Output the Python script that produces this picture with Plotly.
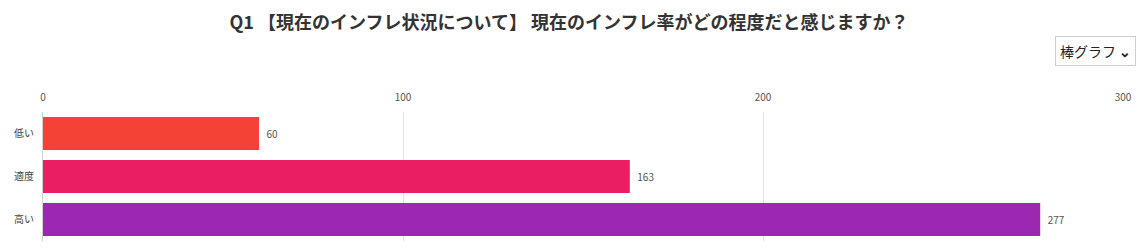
import plotly.graph_objects as go

categories = ["低い", "適度", "高い"]
values = [60, 163, 277]
colors = ["#F44336", "#E91E63", "#9C27B0"]
title = "Q1 【現在のインフレ状況について】 現在のインフレ率がどの程度だと感じますか？"

fig = go.Figure(go.Bar(
    y=categories, x=values, orientation="h",
    marker=dict(color=colors, line=dict(width=0)),
    text=["\u00a0\u00a0" + str(v) for v in values], textposition="outside",
    textfont=dict(size=10, color="#555"), cliponaxis=False,
    width=0.77,
))

fig.update_layout(
    width=1138, height=252,
    margin=dict(l=43, r=15, t=112, b=11, autoexpand=False),
    paper_bgcolor="white", plot_bgcolor="white",
    font=dict(family="Noto Sans CJK JP, Meiryo, sans-serif", color="#444"),
    showlegend=False,
    title=dict(text="<b>" + title + "</b>", x=0.5, xanchor="center", y=0.91, yanchor="middle",
               font=dict(size=18, color="#333")),
    xaxis=dict(side="top", range=[0, 300], dtick=100, showgrid=True, gridcolor="#e3e3e3",
               gridwidth=1, zeroline=False, showline=False, automargin=False,
               ticks="outside", ticklen=6, tickcolor="rgba(0,0,0,0)",
               tickfont=dict(size=10, color="#555")),
    yaxis=dict(autorange="reversed", showline=True, linecolor="#d0d0d0", linewidth=1,
               automargin=False,
               ticks="outside", ticklen=6, tickcolor="rgba(0,0,0,0)",
               tickfont=dict(size=10, color="#444")),
    annotations=[dict(text="棒グラフ <b>⌄</b>", xref="paper", yref="paper", x=1.0, xanchor="right",
                      xshift=13, y=1.0, yshift=61, yanchor="middle", showarrow=False,
                      font=dict(size=14, color="#222"), bordercolor="#cfcfcf", borderwidth=1,
                      borderpad=4, bgcolor="white")],
)

fig.write_html("out.html")
